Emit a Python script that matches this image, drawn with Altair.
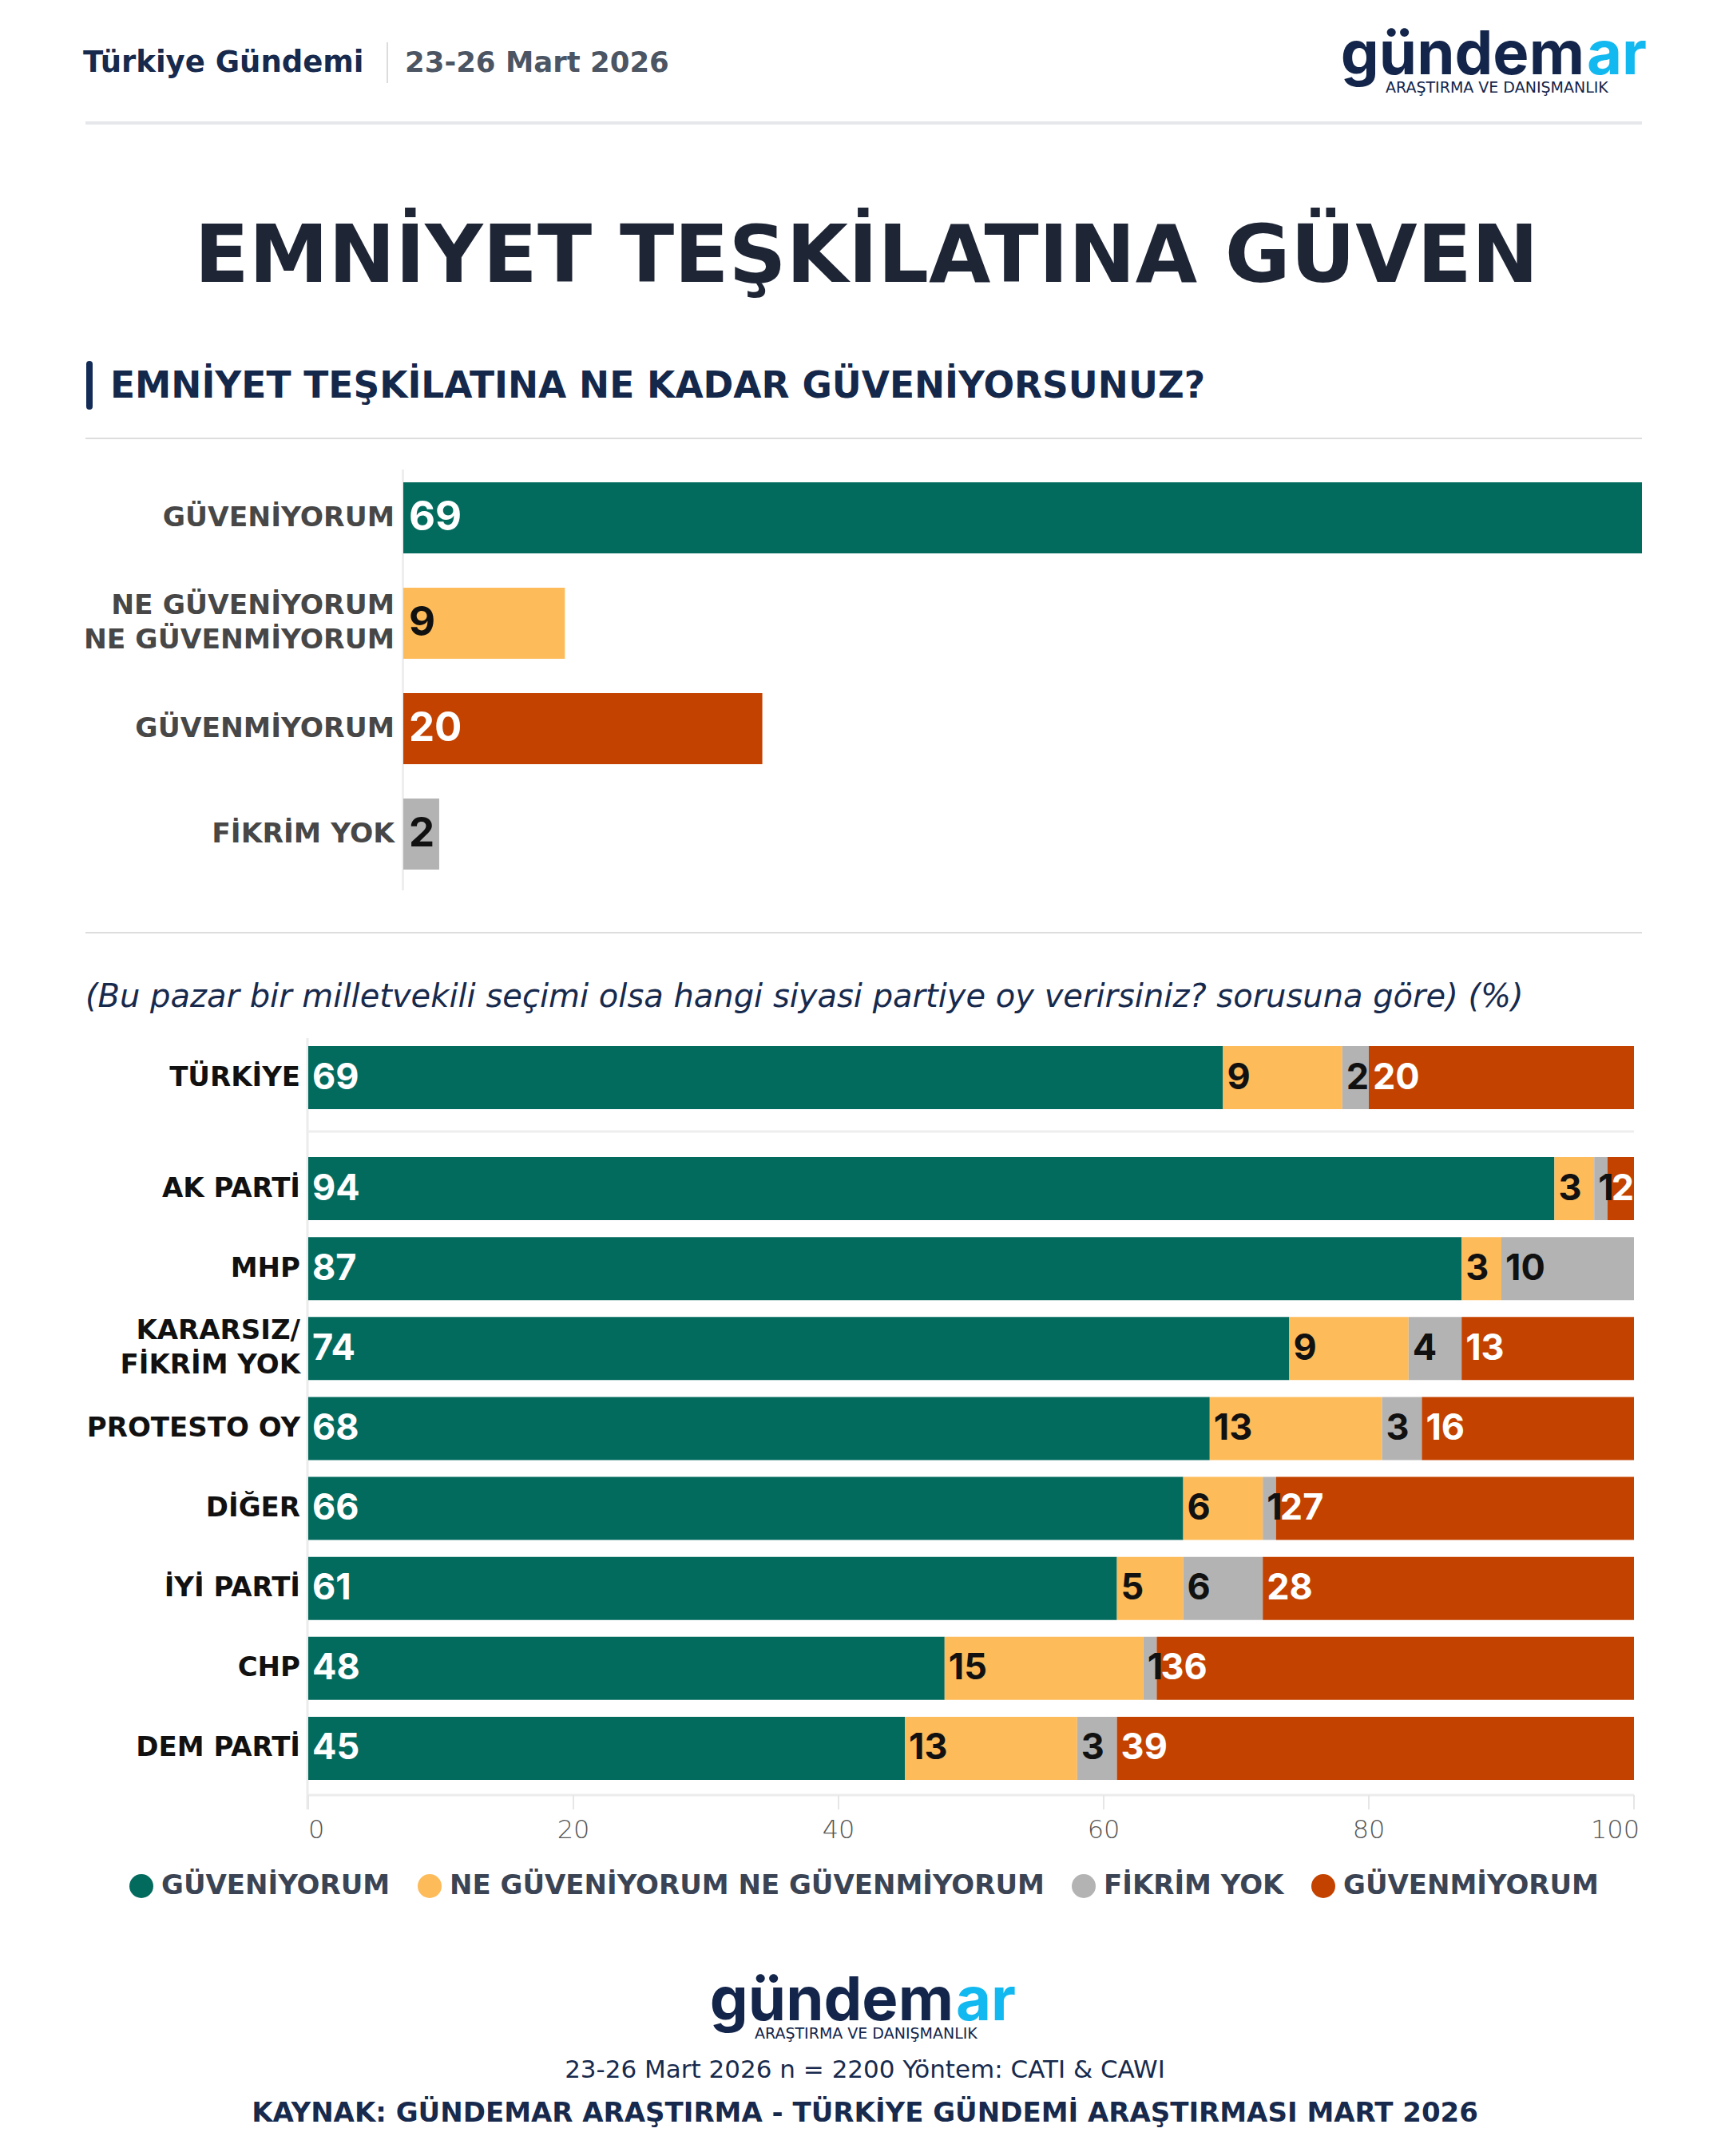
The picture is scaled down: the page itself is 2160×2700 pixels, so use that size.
import altair as alt
import pandas as pd

# ---------------- data ----------------
top_labels = ["GÜVENİYORUM", "NE GÜVENİYORUM\nNE GÜVENMİYORUM", "GÜVENMİYORUM", "FİKRİM YOK"]
top_responses = ["GÜVENİYORUM", "NE GÜVENİYORUM NE GÜVENMİYORUM", "GÜVENMİYORUM", "FİKRİM YOK"]
top_values = [69, 9, 20, 2]

groups = ["TÜRKİYE", "AK PARTİ", "MHP", "KARARSIZ/\nFİKRİM YOK", "PROTESTO OY",
          "DİĞER", "İYİ PARTİ", "CHP", "DEM PARTİ"]
guveniyorum = [69, 94, 87, 74, 68, 66, 61, 48, 45]
ne_ne = [9, 3, 3, 9, 13, 6, 5, 15, 13]
fikrim_yok = [2, 1, 10, 4, 3, 1, 6, 1, 3]
guvenmiyorum = [20, 2, 0, 13, 16, 27, 28, 36, 39]

responses = ["GÜVENİYORUM", "NE GÜVENİYORUM NE GÜVENMİYORUM", "FİKRİM YOK", "GÜVENMİYORUM"]
palette = ["#036b5e", "#fdbb5a", "#b3b3b3", "#c44200"]
dark_bg = ["GÜVENİYORUM", "GÜVENMİYORUM"]
light_bg = ["NE GÜVENİYORUM NE GÜVENMİYORUM", "FİKRİM YOK"]

x_ticks = [0, 20, 40, 60, 80, 100]

# ---------------- tables ----------------
top_df = pd.DataFrame({"label": top_labels, "response": top_responses, "value": top_values})
top_df["zero"] = 0

series = [guveniyorum, ne_ne, fikrim_yok, guvenmiyorum]
rows = []
for i, g in enumerate(groups):
    start = 0
    for r, vals in zip(responses, series):
        v = vals[i]
        rows.append({"group": g, "response": r, "value": v, "start": start, "end": start + v})
        start += v
long_df = pd.DataFrame(rows)
tr_df = long_df[long_df["group"] == groups[0]]
pt_df = long_df[long_df["group"] != groups[0]]
tick_df = pd.DataFrame({"t": x_ticks})

top_multi = [l for l in top_labels if "\n" in l]
top_single = [l for l in top_labels if "\n" not in l]
grp_multi = [g for g in groups if "\n" in g]
grp_single = [g for g in groups if "\n" not in g]

FONT = "DejaVu Sans"
NUMFONT = "Inter"
NAVY = "#172a4d"

# ---------------- scales (pixel ranges inside the canvas) ----------------
top_x = alt.Scale(domain=[0, 69], range=[497, 2048], nice=False, zero=False)
top_y = alt.Scale(domain=top_labels, range=[574.5, 1102.5], paddingInner=0.326, paddingOuter=0.163)
bot_x = alt.Scale(domain=[0, 100], range=[378, 2038], nice=False, zero=False)
tr_y = alt.Scale(domain=groups[:1], range=[1291.5, 1391.5], paddingInner=0.21, paddingOuter=0.105)
pt_y = alt.Scale(domain=groups[1:], range=[1430.5, 2231.5], paddingInner=0.21, paddingOuter=0.105)
col = alt.Scale(domain=responses, range=palette)


def one():
    return alt.Data(values=[{"k": 1}])


def txt(s, x, y, size, color, weight="normal", align="left", style="normal", font=FONT, baseline="alphabetic"):
    return alt.Chart(alt.Data(values=[{"t": s}])).mark_text(
        align=align, baseline=baseline, fontSize=size, fontWeight=weight, color=color,
        font=font, fontStyle=style
    ).encode(x=alt.value(x), y=alt.value(y), text="t:N")


def rule(x1, y1, x2, y2, color, width, cap="butt"):
    return alt.Chart(one()).mark_rule(color=color, strokeWidth=width, strokeCap=cap).encode(
        x=alt.value(x1), y=alt.value(y1), x2=alt.value(x2), y2=alt.value(y2)
    )


layers = []

# ---------------- header ----------------
layers += [
    txt("Türkiye Gündemi", 96, 82, 37, NAVY, weight="bold"),
    rule(477, 45, 477, 96, "#d9dce1", 2),
    txt("23-26 Mart 2026", 499, 82, 35.5, "#4b5563", weight="bold"),
    txt("gündem", 1976, 85, 76, "#13254a", weight="bold", align="right", font="Inter"),
    txt("ar", 1979, 85, 76, "#12b8f0", weight="bold", font="Inter"),
    txt("ARAŞTIRMA VE DANIŞMANLIK", 1727, 108, 19, "#13254a"),
    rule(99, 146, 2048, 146, "#e5e7eb", 4),
    txt("EMNİYET TEŞKİLATINA GÜVEN", 1077, 345, 100, "#1e2535", weight="bold", align="center"),
    rule(104, 448, 104, 501, "#132b57", 8, cap="round"),
    txt("EMNİYET TEŞKİLATINA NE KADAR GÜVENİYORSUNUZ?", 130, 490, 45.5, "#14284b", weight="bold"),
    rule(99, 541, 2048, 541, "#dddddd", 2),
    rule(99, 1160, 2048, 1160, "#dddddd", 2),
    txt("(Bu pazar bir milletvekili seçimi olsa hangi siyasi partiye oy verirsiniz? sorusuna göre) (%)",
        99, 1253, 40, NAVY, style="italic"),
]

# ---------------- top chart ----------------
layers.append(rule(496.5, 580, 496.5, 1107, "#eeeeee", 3))
layers.append(
    alt.Chart(top_df).mark_bar().encode(
        x=alt.X("value:Q", scale=top_x, axis=None),
        x2="zero:Q",
        y=alt.Y("label:N", scale=top_y, axis=None),
        color=alt.Color("response:N", scale=col, legend=None),
    )
)
for labs, dy in [(top_single, 0), (top_multi, -21.5)]:
    layers.append(
        alt.Chart(top_df).transform_filter(
            alt.FieldOneOfPredicate(field="label", oneOf=labs)
        ).mark_text(
            align="right", baseline="middle", dy=dy, font=FONT, fontSize=34.5, fontWeight="bold",
            color="#474747", lineBreak="\n", lineHeight=43
        ).encode(x=alt.value(486), y=alt.Y("label:N", scale=top_y, axis=None), text="label:N")
    )
for cats, c in [(dark_bg, "#ffffff"), (light_bg, "#111111")]:
    layers.append(
        alt.Chart(top_df).transform_filter(
            alt.FieldOneOfPredicate(field="response", oneOf=cats)
        ).mark_text(
            align="left", baseline="middle", dx=7, font=NUMFONT, fontSize=51, fontWeight="bold", color=c
        ).encode(
            x=alt.X("zero:Q", scale=top_x, axis=None),
            y=alt.Y("label:N", scale=top_y, axis=None),
            text="value:Q",
        )
    )

# ---------------- bottom chart ----------------
layers.append(rule(377, 1292, 377, 2258, "#ececec", 3))
layers.append(rule(377, 1409, 2038, 1409, "#eeeeee", 3))
layers.append(rule(377, 2240, 2038, 2240, "#ececec", 3))


def stack(df, ysc, legend):
    out = []
    out.append(
        alt.Chart(df).mark_bar().encode(
            x=alt.X("start:Q", scale=bot_x, axis=None),
            x2="end:Q",
            y=alt.Y("group:N", scale=ysc, axis=None),
            color=alt.Color("response:N", scale=col, legend=legend),
        )
    )
    for labs, dy in [(grp_single, 0), (grp_multi, -21.5)]:
        out.append(
            alt.Chart(df).transform_filter("datum.response == 'GÜVENİYORUM'").transform_filter(
                alt.FieldOneOfPredicate(field="group", oneOf=labs)
            ).mark_text(
                align="right", baseline="middle", dy=dy, font=FONT, fontSize=34, fontWeight="bold",
                color="#111111", lineBreak="\n", lineHeight=43
            ).encode(x=alt.value(368), y=alt.Y("group:N", scale=ysc, axis=None), text="group:N")
        )
    for cats, c in [(dark_bg, "#ffffff"), (light_bg, "#111111")]:
        out.append(
            alt.Chart(df).transform_filter(
                alt.FieldOneOfPredicate(field="response", oneOf=cats)
            ).transform_filter("datum.value > 0").mark_text(
                align="left", baseline="middle", dx=5, font=NUMFONT, fontSize=45, fontWeight="bold", color=c
            ).encode(
                x=alt.X("start:Q", scale=bot_x, axis=None),
                y=alt.Y("group:N", scale=ysc, axis=None),
                text="value:Q",
            )
        )
    return out


legend = alt.Legend(
    orient="none", legendX=152, legendY=2337, direction="horizontal", title=None,
    symbolType="circle", symbolSize=900, symbolStrokeWidth=0, symbolOpacity=1,
    labelFont=FONT, labelFontSize=34, labelFontWeight="bold", labelColor="#3b4454",
    labelLimit=3000, columnPadding=32, labelOffset=8, padding=0,
)
layers += stack(tr_df, tr_y, None)
layers += stack(pt_df, pt_y, legend)

# ticks and tick labels
layers.append(
    alt.Chart(tick_df).mark_rule(color="#e6e6e6", strokeWidth=2).encode(
        x=alt.X("t:Q", scale=bot_x, axis=None), y=alt.value(2240), y2=alt.value(2258)
    )
)
for flt, al, dx in [("datum.t == 0", "left", 0), ("datum.t > 0 && datum.t < 100", "center", 0),
                    ("datum.t == 100", "right", 7)]:
    layers.append(
        alt.Chart(tick_df).transform_filter(flt).mark_text(
            align=al, baseline="alphabetic", dx=dx, font=FONT, fontSize=32, fontWeight=300, color="#555555"
        ).encode(x=alt.X("t:Q", scale=bot_x, axis=None), y=alt.value(2294), text="t:Q")
    )

# ---------------- footer ----------------
layers += [
    txt("gündem", 1186, 2522, 76, "#13254a", weight="bold", align="right", font="Inter"),
    txt("ar", 1189, 2522, 76, "#12b8f0", weight="bold", font="Inter"),
    txt("ARAŞTIRMA VE DANIŞMANLIK", 937, 2545, 19, "#13254a"),
    txt("23-26 Mart 2026 n = 2200 Yöntem: CATI & CAWI", 1075, 2594, 31, NAVY, align="center"),
    txt("KAYNAK: GÜNDEMAR ARAŞTIRMA - TÜRKİYE GÜNDEMİ ARAŞTIRMASI MART 2026", 1075, 2649, 34, NAVY,
        weight="bold", align="center"),
]

chart = alt.layer(*layers).resolve_scale(
    x="independent", y="independent", color="independent"
).properties(
    width=2144, height=2684, padding=0,
    autosize=alt.AutoSizeParams(type="none"),
    background="white",
).configure_view(stroke=None)

chart.save("out.html", embed_options={"renderer": "svg", "actions": False})
